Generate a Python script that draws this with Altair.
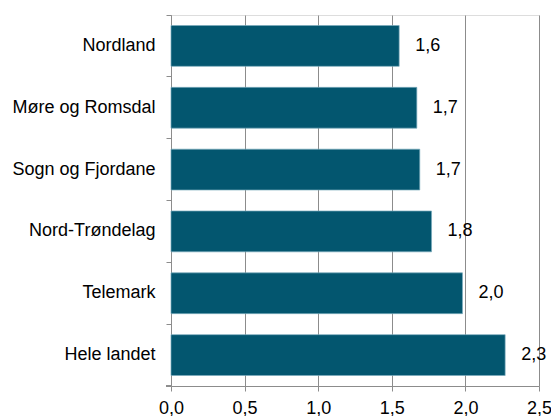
import altair as alt
import pandas as pd

regions = ["Nordland", "Møre og Romsdal", "Sogn og Fjordane", "Nord-Trøndelag", "Telemark", "Hele landet"]
values = [1.55, 1.67, 1.69, 1.77, 1.98, 2.27]
labels = ["1,6", "1,7", "1,7", "1,8", "2,0", "2,3"]
x_ticks = [0, 0.5, 1.0, 1.5, 2.0, 2.5]

df = pd.DataFrame({"region": regions, "value": values, "label": labels})

FONT = "Liberation Sans"
GRAY = "#8c8c8c"
FS = 18

y = alt.Y(
    "region:N",
    sort=regions,
    title=None,
    scale=alt.Scale(paddingInner=0, paddingOuter=0),
    axis=alt.Axis(
        bandPosition=0, grid=False, domainColor=GRAY, tickColor=GRAY,
        tickSize=5, labelPadding=11, labelFontSize=FS, labelColor="#000000",
        labelFont=FONT,
    ),
)
x = alt.X(
    "value:Q",
    title=None,
    scale=alt.Scale(domain=[0, 2.5], nice=False),
    axis=alt.Axis(
        values=x_ticks,
        labelExpr="replace(format(datum.value, '.1f'), '.', ',')",
        grid=True, gridColor=GRAY, gridWidth=1,
        domainColor=GRAY, tickColor=GRAY, tickSize=5, labelPadding=8,
        labelFontSize=FS, labelColor="#000000", labelFont=FONT,
        labelFlush=False,
    ),
)

bars = alt.Chart(df).mark_bar(
    height=alt.RelativeBandSize(0.66), color="#03566F", stroke="#7aaabb", strokeWidth=0.7
).encode(x=x, y=y)

text = alt.Chart(df).mark_text(
    align="left", baseline="middle", dx=16, fontSize=FS, font=FONT, color="#000000"
).encode(x="value:Q", y=alt.Y("region:N", sort=regions), text="label:N")

corner_tick = alt.Chart(df).mark_rule(color=GRAY).encode(
    x=alt.value(-5), x2=alt.value(0), y=alt.value(371)
)

chart = alt.layer(bars, text, corner_tick).properties(
    width=368, height=371,
    autosize=alt.AutoSizeParams(type="none"),
    padding={"left": 163, "top": 7, "right": 12, "bottom": 40},
).configure_view(stroke=None).configure(background="white")

chart.save("out.html", embed_options={"renderer": "svg", "actions": False})
